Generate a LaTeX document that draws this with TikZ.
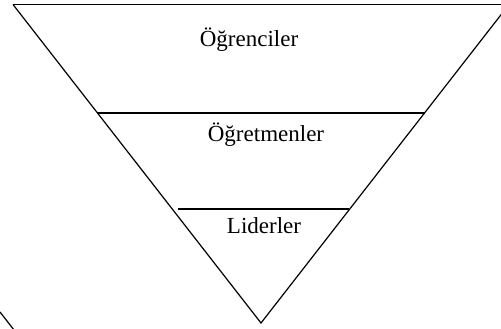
\documentclass[tikz,border=0pt]{standalone}
\usepackage{fontspec}
\setmainfont{Liberation Serif}
\begin{document}
\begin{tikzpicture}[x=1pt,y=-1pt,
  edge/.style={draw=black,line width=1.2pt},
  lbl/.style={anchor=base,inner sep=0pt,font=\fontsize{23}{27}\selectfont}]
\useasboundingbox (0,0) rectangle (501,329);
\clip (0,0) rectangle (501,329);
\coordinate (tl) at (13,4.5);
\coordinate (tr) at (509,4.5);
\coordinate (ap) at (261,323);
\draw[edge,line width=1.5pt] (tl) -- (tr);
\draw[edge,line join=miter] (tl) -- (ap) -- (tr);
\coordinate (a1) at (97,113);
\coordinate (b1) at (425,113);
\draw[edge] (a1) -- (b1);
\coordinate (a2) at (178,209);
\coordinate (b2) at (349,209);
\draw[edge] (a2) -- (b2);
\coordinate (s1) at (0,312);
\coordinate (s2) at (14,330);
\draw[edge] (s1) -- (s2);
\node[lbl] (t1) at (249,47) {Öğrenciler};
\node[lbl] (t2) at (266,141) {Öğretmenler};
\node[lbl] (t3) at (264,233) {Liderler};
\end{tikzpicture}
\end{document}
